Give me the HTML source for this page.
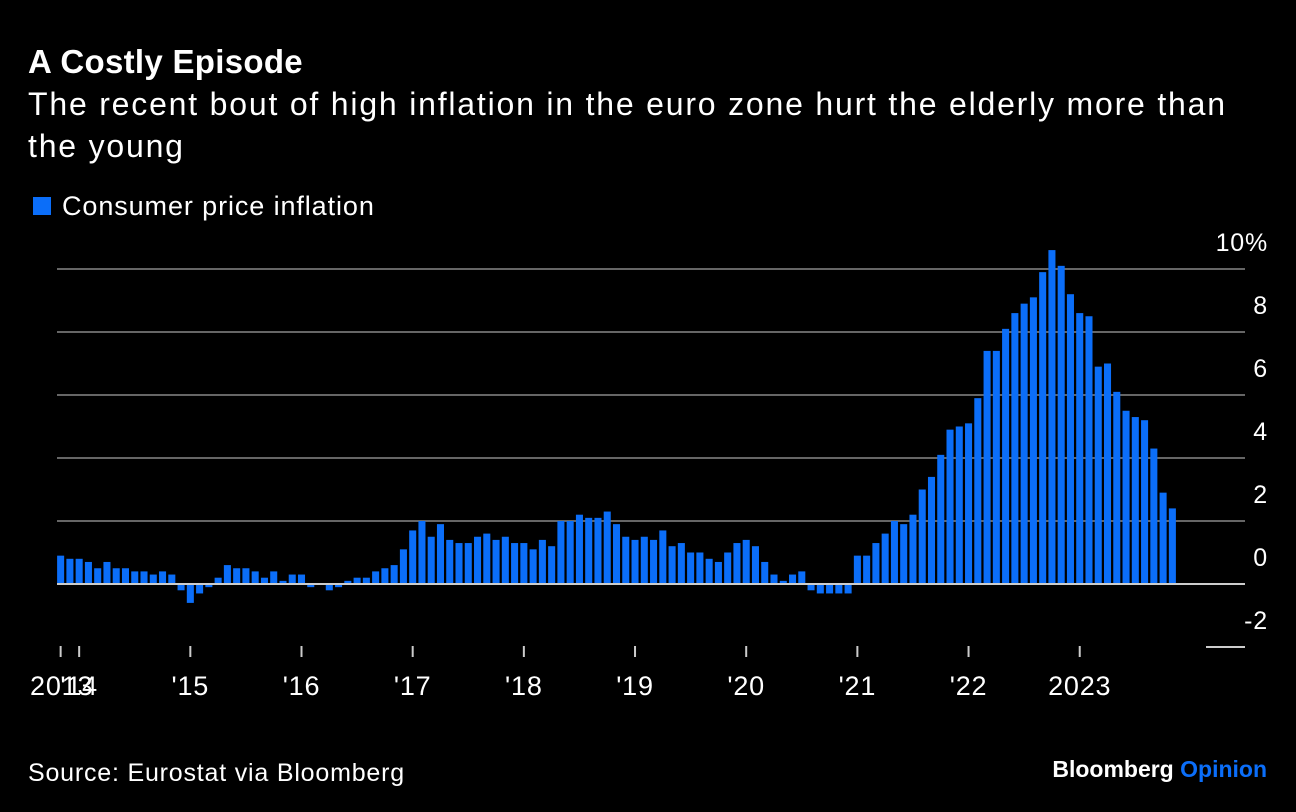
<!DOCTYPE html>
<html><head><meta charset="utf-8"><style>
body{margin:0;background:#000;width:1296px;height:812px;overflow:hidden;font-family:"Liberation Sans",sans-serif;color:#fff}
svg{position:absolute;left:0;top:0}
</style></head><body>
<svg id="c" width="1296" height="812">
<text x="28" y="73" font-size="33" font-weight="bold" letter-spacing="0.3" fill="#fff">A Costly Episode</text>
<text x="28" y="115" font-size="32" letter-spacing="1.8" fill="#fff">The recent bout of high inflation in the euro zone hurt the elderly more than</text>
<text x="28" y="157" font-size="32" letter-spacing="1.8" fill="#fff">the young</text>
<rect x="33" y="197" width="18" height="18" fill="#0b6ef9"/>
<text x="62" y="215" font-size="27" letter-spacing="0.9" fill="#fff">Consumer price inflation</text>
<g id="grid"></g><g id="bars"></g><g id="xax"></g>
<text x="28" y="781" font-size="25" letter-spacing="0.8" fill="#fff">Source: Eurostat via Bloomberg</text>
<text x="1267" y="777" font-size="23" font-weight="bold" text-anchor="end"><tspan fill="#fff">Bloomberg </tspan><tspan fill="#0b6ef9">Opinion</tspan></text>
</svg>
<script>
const values=[0.9,0.8,
0.8,0.7,0.5,0.7,0.5,0.5,0.4,0.4,0.3,0.4,0.3,-0.2,
-0.6,-0.3,-0.1,0.2,0.6,0.5,0.5,0.4,0.2,0.4,0.1,0.3,
0.3,-0.1,0.0,-0.2,-0.1,0.1,0.2,0.2,0.4,0.5,0.6,1.1,
1.7,2.0,1.5,1.9,1.4,1.3,1.3,1.5,1.6,1.4,1.5,1.3,
1.3,1.1,1.4,1.2,2.0,2.0,2.2,2.1,2.1,2.3,1.9,1.5,
1.4,1.5,1.4,1.7,1.2,1.3,1.0,1.0,0.8,0.7,1.0,1.3,
1.4,1.2,0.7,0.3,0.1,0.3,0.4,-0.2,-0.3,-0.3,-0.3,-0.3,
0.9,0.9,1.3,1.6,2.0,1.9,2.2,3.0,3.4,4.1,4.9,5.0,
5.1,5.9,7.4,7.4,8.1,8.6,8.9,9.1,9.9,10.6,10.1,9.2,
8.6,8.5,6.9,7.0,6.1,5.5,5.3,5.2,4.3,2.9,2.4];
const yTicks=[10,8,6,4,2,0,-2];
const yTickLabels=["10%","8","6","4","2","0","-2"];
const xTickIdx=[0,2,14,26,38,50,62,74,86,98,110];
const xTickLabels=["2013","'14","'15","'16","'17","'18","'19","'20","'21","'22","2023"];
const NS="http://www.w3.org/2000/svg";
const x0=56,x1=1177,step=(x1-x0)/values.length,bw=step*0.76;
const y=v=>584-v*31.5;
const xc=i=>x0+i*step+step/2;
function mk(t,a){const e=document.createElementNS(NS,t);for(const k in a)e.setAttribute(k,a[k]);return e;}
const grid=document.getElementById('grid');
yTicks.forEach((v,i)=>{
 const l=mk('line',{x1:v===-2?1206:57,x2:1245,y1:y(v),y2:y(v),stroke:v===0||v===-2?'#ccc':'#666','stroke-width':2});
 
 
 grid.appendChild(l);
 const t=mk('text',{x:1268,y:y(v)-18,'font-size':25,'letter-spacing':0.8,fill:'#fff','text-anchor':'end'});
 t.textContent=yTickLabels[i];
 
 
 grid.appendChild(t);
});
const bars=document.getElementById('bars');
values.forEach((v,i)=>{
 const r=mk('rect',{x:x0+i*step+(step-bw)/2,y:Math.min(y(v),584),width:bw,height:Math.abs(y(v)-584),fill:'#0b6ef9'});
 
 
 bars.appendChild(r);
});
const zl=mk('line',{x1:57,x2:1245,y1:584,y2:584,stroke:'#ccc','stroke-width':2});


bars.appendChild(zl);
const xax=document.getElementById('xax');
xTickIdx.forEach((idx,i)=>{
 const l=mk('line',{x1:xc(idx),x2:xc(idx),y1:646,y2:657,stroke:'#ccc','stroke-width':2});
 
 
 xax.appendChild(l);
 const t=mk('text',{x:i===0?30:xc(idx),y:695,'font-size':27,'letter-spacing':0.8,fill:'#fff','text-anchor':i===0?'start':'middle'});
 t.textContent=xTickLabels[i];
 
 
 xax.appendChild(t);
});
</script>
</body></html>
